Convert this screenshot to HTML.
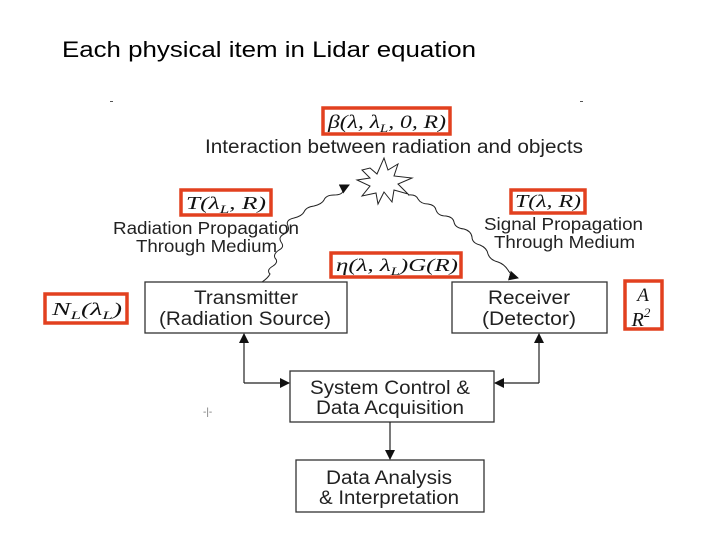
<!DOCTYPE html>
<html><head><style>
html,body{margin:0;padding:0;background:#fff;}
svg{display:block;}
text{font-family:"Liberation Sans",sans-serif;fill:#222;}
.m{font-family:"Liberation Serif",serif;font-style:italic;fill:#111;}
</style></head><body>
<svg width="720" height="540" viewBox="0 0 720 540" xmlns="http://www.w3.org/2000/svg">
<defs>
<marker id="a" markerWidth="10" markerHeight="10" refX="9" refY="5" orient="auto" markerUnits="userSpaceOnUse">
<path d="M0,0 L10,5 L0,10 z" fill="#111"/></marker>
</defs>
<text x="62" y="57" font-size="22" textLength="414" lengthAdjust="spacingAndGlyphs" style="fill:#000">Each physical item in Lidar equation</text>
<rect x="110" y="101" width="3" height="1" fill="#555"/>
<rect x="580" y="101" width="3" height="1" fill="#555"/>

<g fill="none" stroke="#e2401f" stroke-width="3.5">
<rect x="323" y="108" width="127" height="26"/>
<rect x="181" y="190" width="90" height="25"/>
<rect x="511" y="190" width="74" height="23"/>
<rect x="331" y="253" width="130" height="24"/>
<rect x="45" y="294" width="82" height="29"/>
<rect x="625" y="281" width="37" height="48"/>
</g>
<text class="m" x="328" y="128" font-size="19" textLength="118" lengthAdjust="spacingAndGlyphs">β(λ, λ<tspan font-size="12" dy="4">L</tspan><tspan dy="-4">, 0, R)</tspan></text>
<text class="m" x="186" y="209" font-size="18" textLength="80" lengthAdjust="spacingAndGlyphs">T(λ<tspan font-size="12" dy="4">L</tspan><tspan dy="-4">, R)</tspan></text>
<text class="m" x="515" y="207" font-size="18" textLength="66" lengthAdjust="spacingAndGlyphs">T(λ, R)</text>
<text class="m" x="336" y="271" font-size="18" textLength="122" lengthAdjust="spacingAndGlyphs">η(λ, λ<tspan font-size="12" dy="4">L</tspan><tspan dy="-4">)G(R)</tspan></text>
<text class="m" x="52" y="315" font-size="18" textLength="70" lengthAdjust="spacingAndGlyphs">N<tspan font-size="12" dy="4">L</tspan><tspan dy="-4">(λ</tspan><tspan font-size="12" dy="4">L</tspan><tspan dy="-4">)</tspan></text>
<text class="m" x="643" y="301" font-size="19" text-anchor="middle">A</text>
<text class="m" x="641" y="326" font-size="20" text-anchor="middle">R<tspan font-size="13" dy="-9">2</tspan></text>

<text x="205" y="153" font-size="19" textLength="378" lengthAdjust="spacingAndGlyphs">Interaction between radiation and objects</text>
<text x="113" y="234" font-size="17.5" textLength="186" lengthAdjust="spacingAndGlyphs">Radiation Propagation</text>
<text x="136" y="252" font-size="17.5" textLength="141" lengthAdjust="spacingAndGlyphs">Through Medium</text>
<text x="484" y="230" font-size="17.5" textLength="159" lengthAdjust="spacingAndGlyphs">Signal Propagation</text>
<text x="494" y="248" font-size="17.5" textLength="141" lengthAdjust="spacingAndGlyphs">Through Medium</text>

<polygon fill="#fff" stroke="#222" stroke-width="1" points="370,168 377,174 384,158 388,170 398,164 394,176 412,178 398,184 408,194 394,190 392,202 384,192 378,204 376,193 362,196 370,186 357,180 370,178 362,170"/>

<g fill="none" stroke="#222" stroke-width="1">
<path d="M262,282 q6,-4 8,-8 q-4,-4 3,-8 q6,-4 2,-8 q-2,-4 4,-8 q6,-3 2,-8 q-3,-5 3,-8 q6,-2 4,-8 q-3,-6 6,-8 q8,-2 10,-6 q2,-5 10,-6 q8,-2 10,-6 q2,-5 10,-5 q8,0 9,-4 q2,-4 6,-6" marker-end="url(#a)"/>
<path d="M408,195 q8,-1 10,4 q3,5 10,5 q7,1 8,6 q2,6 10,6 q7,1 8,6 q1,6 10,7 q7,2 8,8 q0,6 8,8 q7,3 8,9 q2,6 10,8 q6,2 10,8 q3,6 10,8" marker-end="url(#a)"/>
</g>

<g fill="#fff" stroke="#333" stroke-width="1.3">
<rect x="145" y="282" width="202" height="51"/>
<rect x="452" y="282" width="155" height="51"/>
<rect x="290" y="371" width="204" height="51"/>
<rect x="296" y="460" width="188" height="52"/>
</g>
<text x="194" y="304" font-size="19" textLength="104" lengthAdjust="spacingAndGlyphs">Transmitter</text>
<text x="159" y="325" font-size="19" textLength="172" lengthAdjust="spacingAndGlyphs">(Radiation Source)</text>
<text x="488" y="304" font-size="19" textLength="82" lengthAdjust="spacingAndGlyphs">Receiver</text>
<text x="482" y="325" font-size="19" textLength="94" lengthAdjust="spacingAndGlyphs">(Detector)</text>
<text x="310" y="394" font-size="19" textLength="160" lengthAdjust="spacingAndGlyphs">System Control &amp;</text>
<text x="316" y="414" font-size="19" textLength="148" lengthAdjust="spacingAndGlyphs">Data Acquisition</text>
<text x="326" y="484" font-size="19" textLength="126" lengthAdjust="spacingAndGlyphs">Data Analysis</text>
<text x="319" y="504" font-size="19" textLength="140" lengthAdjust="spacingAndGlyphs">&amp; Interpretation</text>

<g fill="none" stroke="#222" stroke-width="1.2">
<path d="M244,383 L244,334" marker-end="url(#a)"/>
<path d="M244,383 L289,383" marker-end="url(#a)"/>
<path d="M539,383 L539,334" marker-end="url(#a)"/>
<path d="M539,383 L495,383" marker-end="url(#a)"/>
<path d="M390,422 L390,459" marker-end="url(#a)"/>
</g>
<text x="203" y="415" font-size="10" style="fill:#777">-|-</text>
</svg>
</body></html>
